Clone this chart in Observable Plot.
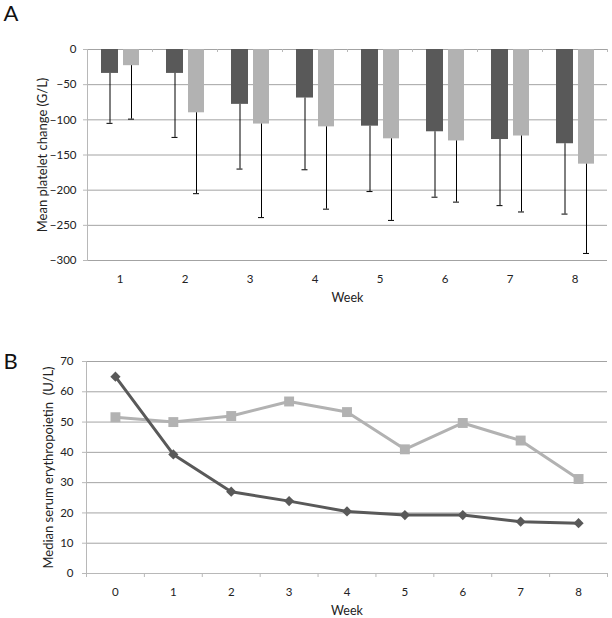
<!DOCTYPE html>
<html>
<head>
<meta charset="utf-8">
<script src="https://cdn.jsdelivr.net/npm/d3@7"></script>
<script src="https://cdn.jsdelivr.net/npm/@observablehq/plot@0.6"></script>
<style>
  html, body { margin: 0; padding: 0; background: #fff; }
  #wrap { width: 612px; height: 618px; font-family: Lato, sans-serif; }
  #wrap svg { display: block; }
</style>
</head>
<body>
<div id="wrap"></div>
<script>
// ---------- Panel A data: mean platelet change (G/L) ----------
const weeksA = [1, 2, 3, 4, 5, 6, 7, 8];
const meanDark = [-34, -34, -78, -69, -109, -117, -128, -134];
const sdDark = [71, 91, 92, 102, 93, 93, 94, 100];
const meanLight = [-23, -90, -106, -110, -127, -130, -123, -163];
const sdLight = [76, 115, 133, 117, 116, 87, 108, 127];
const yTicksA = [0, -50, -100, -150, -200, -250, -300];

// ---------- Panel B data: median serum erythropoietin (U/L) ----------
const weeksB = [0, 1, 2, 3, 4, 5, 6, 7, 8];
const epoDark = [65.0, 39.3, 27.0, 23.9, 20.5, 19.3, 19.3, 17.1, 16.6];
const epoLight = [51.6, 50.0, 52.0, 56.8, 53.3, 41.0, 49.7, 43.9, 31.2];
const yTicksB = [0, 10, 20, 30, 40, 50, 60, 70];

// ---------- styles ----------
const darkColor = "#595959";
const lightColor = "#b2b2b2";
const gridColor = "#a3a3a3";
const axisColor = "#b8b8b8";
const textColor = "#222";
const font = "Lato, sans-serif";

const darkRows = weeksA.map((w, i) => ({week: w, mean: meanDark[i], sd: sdDark[i]}));
const lightRows = weeksA.map((w, i) => ({week: w, mean: meanLight[i], sd: sdLight[i]}));
const boundsA = [weeksA[0] - 0.5, ...weeksA.map(w => w + 0.5)];

const plotA = Plot.plot({
  width: 612, height: 305,
  marginTop: 49, marginBottom: 45, marginLeft: 87, marginRight: 5,
  style: {fontFamily: font, fontSize: "11.5px", color: textColor, background: "white"},
  x: {domain: [boundsA[0], boundsA[boundsA.length - 1]], axis: null},
  y: {domain: [-300, 0], axis: null},
  marks: [
    Plot.ruleY(yTicksA, {stroke: gridColor, strokeWidth: 1}),
    Plot.frame({anchor: "left", stroke: axisColor}),
    Plot.axisY({ticks: yTicksA, tickSize: 4, tickFormat: () => "", stroke: axisColor, label: null}),
    Plot.axisY({ticks: yTicksA, tickSize: 0, tickPadding: 11, fill: textColor, tickFormat: d3.format("d"), label: null}),
    Plot.ruleX(boundsA, {x: d => d, y1: 0, y2: 0, insetBottom: -3, stroke: axisColor}),
    Plot.axisX({ticks: weeksA, tickSize: 0, tickPadding: 14, anchor: "bottom", fill: textColor, tickFormat: d3.format("d"), label: null}),
    Plot.rectY(darkRows, {x1: d => d.week - 0.5, x2: d => d.week + 0.5, y1: 0, y2: "mean",
      fill: darkColor, insetLeft: 14, insetRight: 34}),
    Plot.rectY(lightRows, {x1: d => d.week - 0.5, x2: d => d.week + 0.5, y1: 0, y2: "mean",
      fill: lightColor, insetLeft: 36, insetRight: 13}),
    Plot.ruleX(darkRows, {x: "week", y1: "mean", y2: d => d.mean - d.sd, dx: -10, stroke: "#000"}),
    Plot.ruleX(lightRows, {x: "week", y1: "mean", y2: d => d.mean - d.sd, dx: 11.5, stroke: "#000"}),
    Plot.ruleY(darkRows, {y: d => d.mean - d.sd, x1: d => d.week - 0.5, x2: d => d.week + 0.5,
      insetLeft: 19.5, insetRight: 39.5, stroke: "#000"}),
    Plot.ruleY(lightRows, {y: d => d.mean - d.sd, x1: d => d.week - 0.5, x2: d => d.week + 0.5,
      insetLeft: 41, insetRight: 18, stroke: "#000"}),
    Plot.text(["Week"], {text: d => d, frameAnchor: "bottom", dy: 37, textAnchor: "middle", lineAnchor: "middle", fill: textColor, fontSize: 12.5}),
    Plot.text(["Mean platelet change (G/L)"], {text: d => d, frameAnchor: "left", dx: -45, rotate: -90,
      textAnchor: "middle", lineAnchor: "middle", fill: textColor, fontSize: 13}),
    Plot.text(["A"], {text: d => d, frameAnchor: "top-left", dx: -84, dy: -44, textAnchor: "start",
      lineAnchor: "top", fontSize: 22, fill: "#111"})
  ]
});

const darkB = weeksB.map((w, i) => ({week: w, value: epoDark[i]}));
const lightB = weeksB.map((w, i) => ({week: w, value: epoLight[i]}));
const boundsB = [weeksB[0] - 0.5, ...weeksB.map(w => w + 0.5)];

const plotB = Plot.plot({
  width: 612, height: 313,
  marginTop: 56, marginBottom: 45, marginLeft: 86, marginRight: 5,
  style: {fontFamily: font, fontSize: "11.5px", color: textColor, background: "white"},
  x: {domain: [boundsB[0], boundsB[boundsB.length - 1]], axis: null},
  y: {domain: [0, 70], axis: null},
  marks: [
    Plot.ruleY(yTicksB.filter(t => t !== 0), {stroke: gridColor}),
    Plot.ruleY([0], {stroke: axisColor}),
    Plot.frame({anchor: "left", stroke: axisColor}),
    Plot.axisY({ticks: yTicksB, tickSize: 4, tickFormat: () => "", stroke: axisColor, label: null}),
    Plot.axisY({ticks: yTicksB, tickSize: 0, tickPadding: 13, fill: textColor, tickFormat: d3.format("d"), label: null}),
    Plot.ruleX(boundsB, {x: d => d, y1: 0, y2: 0, insetBottom: -4, stroke: axisColor}),
    Plot.axisX({ticks: weeksB, tickSize: 0, tickPadding: 14, anchor: "bottom", fill: textColor, tickFormat: d3.format("d"), label: null}),
    Plot.line(lightB, {x: "week", y: "value", stroke: lightColor, strokeWidth: 3}),
    Plot.dot(lightB, {x: "week", y: "value", symbol: "square", r: 5.6, fill: lightColor, stroke: "none"}),
    Plot.line(darkB, {x: "week", y: "value", stroke: darkColor, strokeWidth: 3}),
    Plot.dot(darkB, {x: "week", y: "value", symbol: "diamond2", r: 4.6, fill: darkColor, stroke: "none"}),
    Plot.text(["Week"], {text: d => d, frameAnchor: "bottom", dy: 37, textAnchor: "middle", lineAnchor: "middle", fill: textColor, fontSize: 12.5}),
    Plot.text(["Median serum erythropoietin  (U/L)"], {text: d => d, frameAnchor: "left", dx: -38, rotate: -90,
      textAnchor: "middle", lineAnchor: "middle", fill: textColor, fontSize: 13}),
    Plot.text(["B"], {text: d => d, frameAnchor: "top-left", dx: -83, dy: -8, textAnchor: "start",
      lineAnchor: "top", fontSize: 22, fill: "#111"})
  ]
});

const wrap = document.getElementById("wrap");
wrap.appendChild(plotA);
wrap.appendChild(plotB);
</script>
</body>
</html>
